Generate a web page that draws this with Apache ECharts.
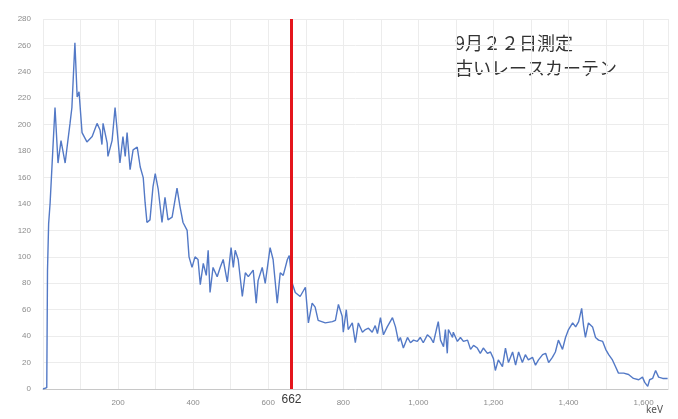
<!DOCTYPE html>
<html>
<head>
<meta charset="utf-8">
<script src="https://cdn.jsdelivr.net/npm/echarts@6/dist/echarts.min.js"></script>
<style>
  html, body { margin: 0; padding: 0; background: #fff; }
  #chart { width: 678px; height: 419px; }
</style>
</head>
<body>
<div id="chart"></div>
<script>
// spectrum: energy (keV) and counts
const energyKeV = [
  0, 10, 12, 15, 19, 26, 32, 40, 48, 59, 65, 72, 77, 85, 91, 96, 104, 117, 131, 144,
  152, 157, 160, 171, 173, 184, 192, 200, 205, 213, 219, 224, 232, 240, 251, 259, 267, 272, 277, 285,
  293, 299, 307, 317, 325, 333, 344, 357, 365, 373, 384, 389, 397, 405, 413, 419, 427, 435, 440, 445,
  453, 464, 472, 480, 491, 501, 507, 512, 520, 531, 539, 547, 560, 568, 573, 584, 592, 605, 613, 624,
  632, 640, 651, 656, 664, 672, 685, 699, 707, 717, 725, 733, 752, 771, 779, 787, 797, 800, 808, 813,
  824, 832, 840, 851, 859, 867, 877, 885, 891, 899, 907, 917, 931, 939, 947, 952, 960, 971, 979, 987,
  997, 1005, 1013, 1024, 1032, 1040, 1048, 1053, 1059, 1067, 1072, 1077, 1080, 1091, 1093, 1104, 1112, 1120, 1131, 1139,
  1147, 1157, 1165, 1173, 1184, 1192, 1200, 1205, 1213, 1224, 1232, 1240, 1251, 1259, 1267, 1277, 1285, 1293, 1304, 1312,
  1320, 1331, 1339, 1347, 1357, 1365, 1373, 1384, 1392, 1400, 1411, 1419, 1427, 1435, 1440, 1445, 1453, 1464, 1472, 1480,
  1491, 1499, 1507, 1517, 1525, 1533, 1547, 1560, 1573, 1587, 1597, 1603, 1611, 1616, 1624, 1632, 1640, 1651, 1664
];
const counts = [
  0, 1, 90, 125, 141, 180, 213, 171, 188, 171, 185, 201, 213, 262, 221, 225, 194, 187, 191, 201,
  196, 185, 201, 186, 176, 188, 213, 188, 171, 191, 176, 194, 166, 181, 183, 168, 160, 141, 126, 128,
  153, 163, 151, 126, 145, 128, 130, 152, 138, 126, 120, 100, 92, 100, 98, 79, 95, 86, 105, 73,
  92, 85, 92, 98, 81, 107, 92, 105, 98, 70, 88, 85, 90, 65, 82, 92, 80, 107, 98, 65,
  88, 86, 98, 101, 80, 73, 70, 77, 50, 65, 62, 52, 50, 51, 52, 64, 55, 43, 60, 45,
  50, 35, 50, 43, 45, 46, 43, 48, 42, 54, 41, 47, 54, 47, 36, 39, 31, 39, 35, 37,
  36, 39, 35, 41, 39, 35, 45, 51, 37, 32, 45, 27, 45, 39, 43, 36, 39, 36, 37, 30,
  33, 31, 27, 31, 27, 28, 23, 14, 22, 17, 31, 20, 28, 18, 28, 20, 26, 22, 24, 18,
  22, 26, 27, 20, 24, 28, 37, 30, 39, 45, 50, 47, 51, 61, 48, 39, 50, 47, 39, 37,
  36, 30, 26, 22, 17, 12, 12, 11, 8, 7, 9, 5, 2, 7, 8, 14, 9, 8, 8
];
const markEnergy = 662;
const yTicks = { min: 0, max: 280, step: 20 };
const xTicks = { min: 0, max: 1665, step: 100, labelStep: 200 };
const noteLines = ['9月２２日測定', '古いレースカーテン'];

const chart = echarts.init(document.getElementById('chart'));
const points = energyKeV.map((e, i) => [e, counts[i]]);

const option = {
  animation: false,
  grid: { left: 43, right: 10, top: 19, bottom: 30 },
  xAxis: {
    type: 'value',
    min: xTicks.min,
    max: xTicks.max,
    interval: xTicks.step,
    axisLine: { show: true, lineStyle: { color: '#c8c8c8', width: 1 } },
    axisTick: { show: false },
    axisLabel: {
      showMinLabel: false,
      showMaxLabel: false,
      color: '#8c8c8c',
      fontSize: 8,
      margin: 10,
      formatter: (v) => (v % xTicks.labelStep === 0 ? v.toLocaleString('en-US') : '')
    },
    splitLine: { show: true, lineStyle: { color: '#ececec', width: 1 } }
  },
  yAxis: {
    type: 'value',
    min: yTicks.min,
    max: yTicks.max,
    interval: yTicks.step,
    axisLine: { show: false },
    axisTick: { show: false },
    axisLabel: { color: '#8c8c8c', fontSize: 8, margin: 12 },
    splitLine: { lineStyle: { color: '#ececec', width: 1 } }
  },
  series: [
    {
      type: 'line',
      data: points,
      showSymbol: false,
      lineStyle: { color: '#5379c6', width: 1.4 },
      markLine: {
        silent: true,
        symbol: 'none',
        label: {
          show: true,
          position: 'start',
          distance: 5,
          formatter: String(markEnergy),
          color: '#3a3a3a',
          fontSize: 12
        },
        lineStyle: { color: '#e4151c', width: 3, type: 'solid' },
        data: [{ xAxis: markEnergy }]
      }
    }
  ],
  graphic: [
    {
      type: 'text',
      left: 455,
      top: 31,
      style: {
        text: noteLines.join('\n'),
        fill: '#333',
        font: '18px "Noto Sans CJK JP", sans-serif',
        lineHeight: 25
      }
    },
    {
      type: 'text',
      left: 646,
      top: 405,
      style: {
        text: 'keV',
        fill: '#555',
        font: '10px "Noto Sans", sans-serif'
      }
    }
  ]
};

chart.setOption(option);
</script>
</body>
</html>
